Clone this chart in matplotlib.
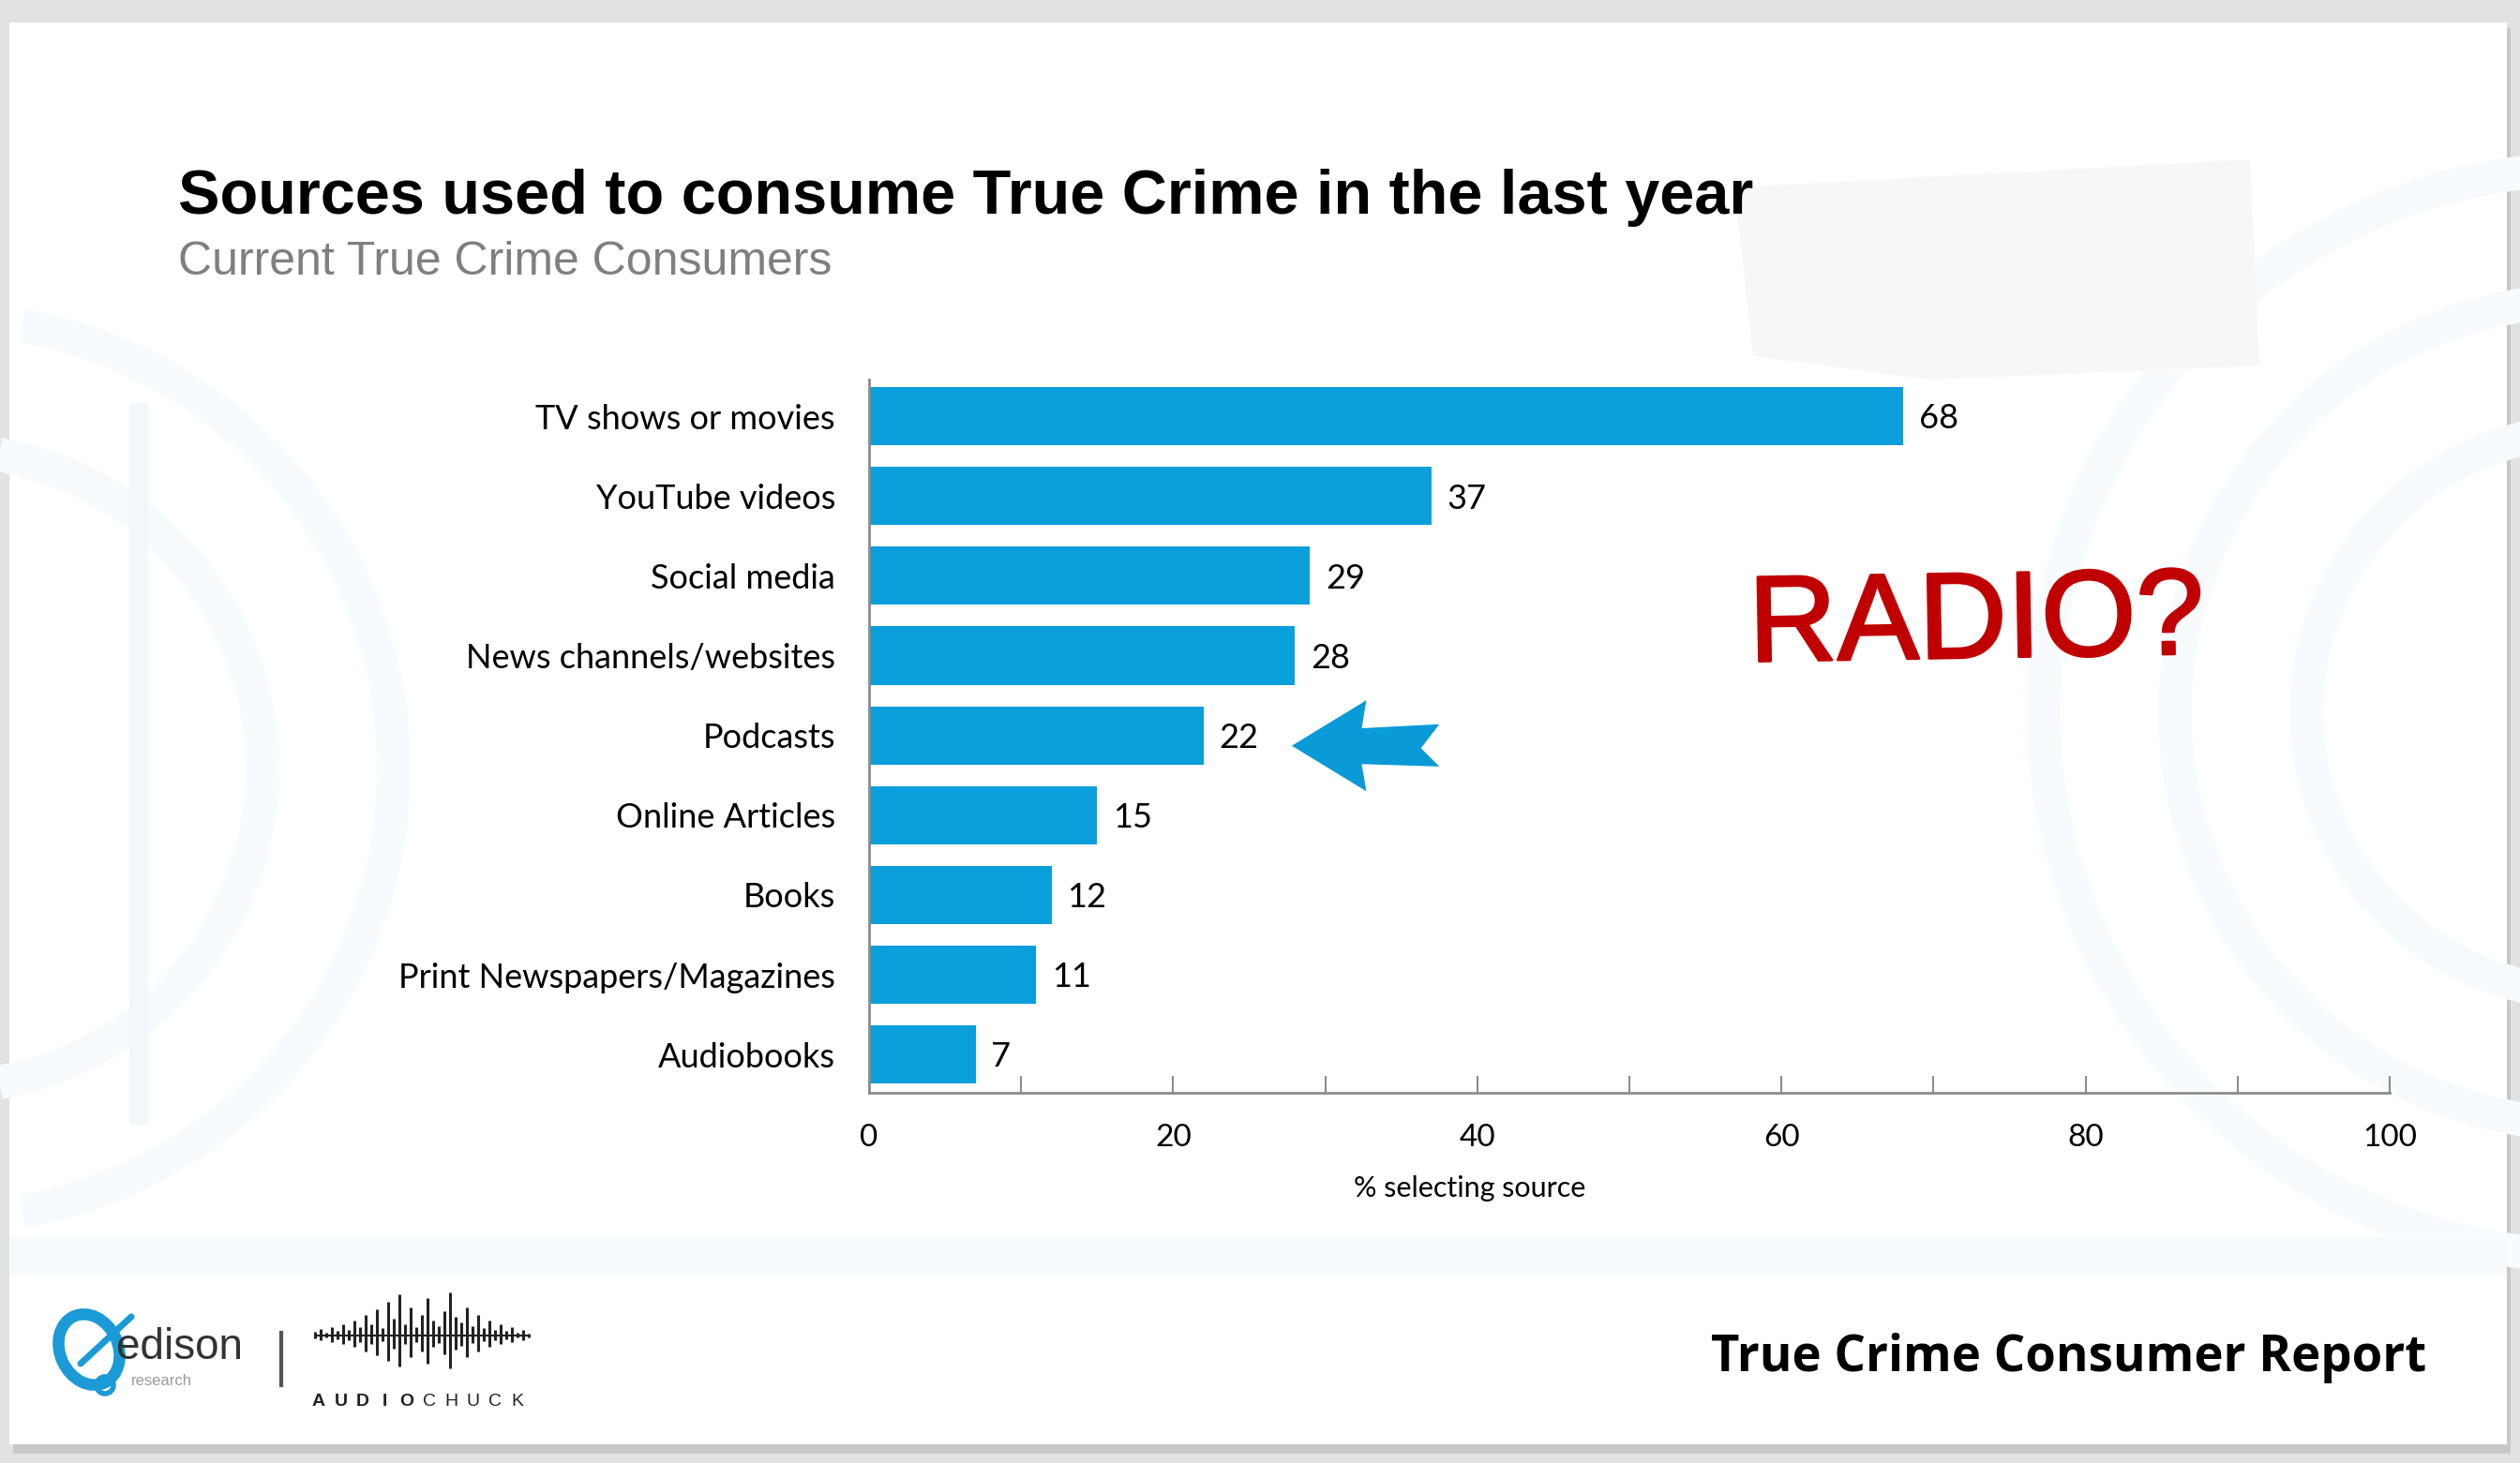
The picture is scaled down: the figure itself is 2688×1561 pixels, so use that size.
import numpy as np
import matplotlib.pyplot as plt
from matplotlib.patches import Rectangle, Polygon, Ellipse, Circle, Arc
import matplotlib.patheffects as pe

# Data
categories = ["TV shows or movies", "YouTube videos", "Social media",
              "News channels/websites", "Podcasts", "Online Articles",
              "Books", "Print Newspapers/Magazines", "Audiobooks"]
values = [68, 37, 29, 28, 22, 15, 12, 11, 7]
xticks = [0, 20, 40, 60, 80, 100]

# waveform heights for the logo (decoration only)
wave = [4, 7, 3, 9, 5, 12, 6, 16, 9, 22, 12, 28, 8, 36, 18, 44, 12, 30, 9, 22,
        40, 16, 10, 26, 46, 20, 14, 30, 10, 22, 8, 16, 6, 12, 5, 9, 3, 6, 2]

BAR = "#0a9edb"
AXIS = "#8c8c8c"
W, H = 2688, 1561

fig = plt.figure(figsize=(W / 100, H / 100), dpi=100)
fig.patch.set_facecolor("#e2e2e2")

# background / decoration layer in pixel coordinates
bg = fig.add_axes([0, 0, 1, 1], zorder=0)
bg.set_xlim(0, W)
bg.set_ylim(H, 0)
bg.axis("off")
bg.add_patch(Rectangle((14, 30), W - 24, H - 40, facecolor="#c8c8c8", edgecolor="none"))
bg.add_patch(Rectangle((10, 24), W - 24, H - 44, facecolor="white", edgecolor="none"))

# very faint fingerprint watermark
wm = "#f8fbfd"
for r in [300, 440, 580]:
    bg.add_patch(Arc((2760, 760), 2 * r, 2 * r, theta1=90, theta2=270, color=wm, lw=26))
for r in [340, 480]:
    bg.add_patch(Arc((-60, 820), 2 * r, 2 * r, theta1=-80, theta2=80, color=wm, lw=26))
bg.add_patch(Rectangle((138, 430), 20, 770, facecolor="#f1f7fb", edgecolor="none"))
bg.add_patch(Rectangle((10, 1320), W - 24, 40, facecolor="#f7fafd", edgecolor="none"))
# faint grey photo patch top right
bg.add_patch(Polygon([(1850, 200), (2400, 170), (2410, 390), (2060, 405), (1870, 380)],
                     closed=True, facecolor="#f7f7f7", edgecolor="none"))

# edison research logo
bg.add_patch(Ellipse((95, 1440), 62, 78, angle=-25, fill=False, ec="#1a9ad6", lw=9))
bg.add_patch(Circle((112, 1478), 9, fill=False, ec="#1a9ad6", lw=4))
bg.plot([86, 140], [1455, 1405], color="#1a9ad6", lw=5, solid_capstyle="round")
bg.text(124, 1450, "edison", fontsize=33, color="#333333", va="baseline",
        family="Liberation Sans")
bg.text(140, 1478, "research", fontsize=12, color="#9a9a9a", va="baseline",
        family="Liberation Sans")
bg.plot([300, 300], [1422, 1478], color="#555555", lw=3)
# audiochuck waveform
wx = np.linspace(336, 564, len(wave))
bg.vlines(wx, 1425 - np.array(wave), 1425 + np.array(wave) * 0.75, color="#222222", lw=2.2)
bg.plot(wx, np.full(len(wave), 1425), color="#222222", lw=1.5)
for i, ch in enumerate("AUDIOCHUCK"):
    bg.text(340 + i * 23.5, 1496, ch, fontsize=14, color="#222222", ha="center",
            va="center", family="Liberation Sans",
            fontweight="bold" if i < 5 else "normal")

# titles
fig.text(0.0705, 0.854, "Sources used to consume True Crime in the last year",
         fontsize=48, fontweight="bold", family="Liberation Sans", va="baseline")
fig.text(0.0705, 0.8123, "Current True Crime Consumers", fontsize=36,
         color="#7f7f7f", family="Liberation Sans", va="baseline")
fig.text(0.963, 1 - 1463 / H, "True Crime Consumer Report", fontsize=38,
         fontweight="bold", family="Open Sans", ha="right", va="baseline")

# main chart
ax = fig.add_axes([927 / W, 1 - 1166 / H, (2549 - 927) / W, (1166 - 405) / H], zorder=2)
ax.patch.set_alpha(0)
pos = np.arange(len(categories))
ax.barh(pos, values, height=0.73, color=BAR)
ax.set_xlim(0, 100)
ax.set_ylim(8.48, -0.46)
ax.set_yticks(pos)
ax.set_yticklabels(categories, fontsize=26, family="Lato")
ax.set_xticks(xticks)
ax.set_xticks(range(0, 101, 10), minor=True)
ax.set_xticklabels([str(t) for t in xticks], fontsize=24, family="Lato")
ax.tick_params(axis="y", length=0, pad=26)
ax.tick_params(axis="x", which="both", direction="in", length=13, width=1.5,
               color=AXIS, pad=24)
for s in ["top", "right"]:
    ax.spines[s].set_visible(False)
for s in ["left", "bottom"]:
    ax.spines[s].set_color(AXIS)
    ax.spines[s].set_linewidth(2)

for p, v in zip(pos, values):
    ax.annotate(str(v), (v, p), xytext=(12, -2), textcoords="offset points",
                va="center", ha="left", fontsize=26, family="Lato")

ax.set_xlabel("% selecting source", fontsize=22, family="Lato")
ax.xaxis.set_label_coords(0.395, -0.115)

# blue arrow pointing at Podcasts
pv = values[categories.index("Podcasts")]
py = pos[categories.index("Podcasts")]
shape = [(5.8, 0.13), (10.7, -0.44), (10.4, -0.09), (15.5, -0.14), (14.3, 0.16),
         (15.5, 0.39), (10.4, 0.36), (10.7, 0.70)]
ax.add_patch(Polygon([(pv + dx, py + dy) for dx, dy in shape], closed=True,
                     facecolor="#0a9ad8", edgecolor="none", clip_on=False))

# handwritten note
fig.text(2108 / W, 1 - 667 / H, "RADIO?", fontsize=94, color="#c00000",
         family="Liberation Sans", ha="center", va="center", rotation=1,
         path_effects=[pe.withStroke(linewidth=2, foreground="#c00000")])

fig.savefig("out.png", dpi=100, facecolor=fig.get_facecolor())
